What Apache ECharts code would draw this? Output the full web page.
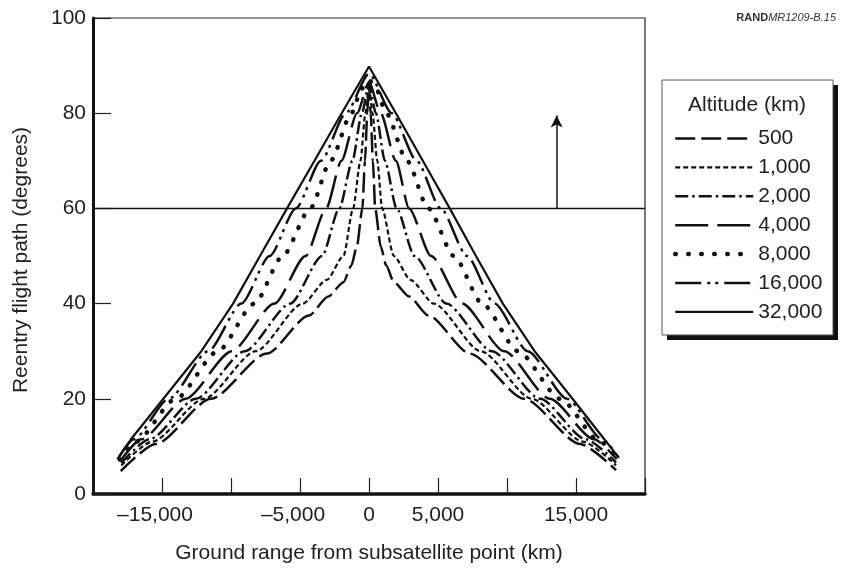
<!DOCTYPE html>
<html>
<head>
<meta charset="utf-8">
<script src="https://cdn.jsdelivr.net/npm/echarts@6/dist/echarts.min.js"></script>
<style>
html,body{margin:0;padding:0;background:#fff;}
#chart{width:842px;height:569px;}
</style>
</head>
<body>
<div id="chart"></div>
<script>
// ---- data (ground range km, reentry angle deg) ----
const altitudes = ['500', '1,000', '2,000', '4,000', '8,000', '16,000', '32,000'];
const alt500 = [[-17990,4.8],[-15450,10.5],[-11450,20],[-7400,29.5],[-4350,37.5],[-2950,41.5],[-1850,44.5],[-1280,48],[-880,52],[-480,60],[-290,70],[-125,80],[0,86],[120,80],[280,70],[450,60],[850,52],[1250,48],[1800,44.5],[2900,41.5],[4300,37.5],[7300,29.5],[11250,20],[15300,10.5],[17900,5]];
const alt1000 = [[-17950,6],[-15700,11],[-11950,20],[-8200,30],[-4800,40],[-3050,45],[-1850,50],[-1150,60],[-620,70],[-260,80],[0,86],[250,80],[600,70],[950,60],[1800,50],[3000,45],[4700,40],[8100,30],[11800,20],[15500,11],[17900,6]];
const alt2000 = [[-17950,6.5],[-15900,11.5],[-12550,20],[-9000,30],[-5700,40],[-3400,50],[-2150,60],[-1200,70],[-520,80],[0,86],[500,80],[1150,70],[2000,60],[3300,50],[5600,40],[8900,30],[12400,20],[15700,11.5],[17900,6.6]];
const alt4000 = [[-18000,7],[-16500,11.5],[-13300,20],[-9950,30],[-6850,40],[-4600,50],[-3100,60],[-2000,70],[-870,80],[0,86.5],[850,80],[1950,70],[2900,60],[4500,50],[6750,40],[9800,30],[13100,20],[16300,11.5],[17950,7.3]];
const alt8000 = [[-18050,7.2],[-16900,11],[-14000,20],[-10950,30],[-8300,40],[-6250,50],[-4250,60],[-2780,70],[-1270,80],[-520,85.2],[0,87],[500,85.2],[1250,80],[2750,70],[4300,60],[6150,50],[8200,40],[10800,30],[13850,20],[16750,11],[18000,7.4]];
const alt16000 = [[-18150,7.6],[-17050,11.5],[-14500,20],[-11650,30],[-9250,40],[-7200,50],[-5300,60],[-3480,70],[-1680,80],[0,88.3],[1650,80],[3450,70],[5200,60],[7100,50],[9100,40],[11500,30],[14350,20],[16900,11.5],[18050,7.8]];
const alt32000 = [[-18240,7.3],[-17250,11.5],[-14900,20],[-12150,30],[-9850,40],[-7900,50],[-5940,60],[-3950,70],[-1980,80],[0,89.8],[1950,80],[3900,70],[5850,60],[7750,50],[9700,40],[12000,30],[14750,20],[17050,11.5],[18120,7.6]];
const seriesData = [alt500, alt1000, alt2000, alt4000, alt8000, alt16000, alt32000];
const labeledTicksX = [-15000, -5000, 0, 5000, 15000];
const thresholdLine = [[-20000, 60], [20000, 60]];
const arrowFrom = [13600, 60];
const arrowTo = [13600, 79.5];

// ---- styles ----
const FONT = '"Liberation Sans", Arial, Helvetica, sans-serif';
const FS = 21;
const styles = [
  {type: [20, 6], width: 2.5, cap: 'butt'},
  {type: [5, 3], width: 2.2, cap: 'butt'},
  {type: [13, 4, 2.5, 4], width: 2.5, cap: 'butt'},
  {type: [33, 9], width: 2.5, cap: 'butt'},
  {type: [0.5, 12.5], width: 4.5, cap: 'round'},
  {type: [26, 6, 3, 5, 3, 6], width: 2.5, cap: 'butt'},
  {type: 'solid', width: 2.2, cap: 'butt'}
];

function fmtX(v) {
  const s = Math.abs(v).toLocaleString('en-US');
  return v < 0 ? '{neg|\u2013' + s + '}' : s;
}

const series = altitudes.map((name, i) => ({
  name: name,
  type: 'line',
  data: seriesData[i],
  symbol: 'none',
  legendIcon: 'none',
  smooth: i === 6 ? false : 0.25,
  smoothMonotone: 'x',
  lineStyle: {color: '#111', width: styles[i].width, type: styles[i].type, cap: styles[i].cap},
  itemStyle: {color: '#111'},
  z: 3
}));

series.push({
  name: 'threshold',
  type: 'line',
  data: thresholdLine,
  symbol: 'none',
  lineStyle: {color: '#111', width: 1.5},
  z: 2,
  silent: true,
  markLine: {
    silent: true,
    symbol: ['none', 'arrow'],
    symbolSize: [9, 12],
    label: {show: false},
    lineStyle: {color: '#111', width: 1.5, type: 'solid'},
    data: [[{coord: arrowFrom}, {coord: arrowTo}]]
  }
});

const legendData = altitudes.map((name, i) => ({
  name: name,
  lineStyle: {width: styles[i].width, type: styles[i].type, cap: styles[i].cap, color: '#111'}
}));

const chart = echarts.init(document.getElementById('chart'), null, {renderer: 'canvas'});
chart.setOption({
  animation: false,
  backgroundColor: '#fff',
  textStyle: {fontFamily: FONT},
  grid: {left: 93, right: 197, top: 18, bottom: 75, show: true, borderColor: '#222', borderWidth: 1.2},
  xAxis: {
    type: 'value', min: -20000, max: 20000, interval: 5000,
    name: 'Ground range from subsatellite point (km)',
    nameLocation: 'middle', nameGap: 49,
    nameTextStyle: {fontSize: FS, color: '#222', fontFamily: FONT},
    axisLine: {onZero: false, lineStyle: {color: '#111', width: 3.5}},
    axisTick: {inside: true, length: 16, lineStyle: {color: '#222', width: 1.2}},
    axisLabel: {
      margin: 11, fontSize: FS, color: '#222', fontFamily: FONT,
      formatter: v => labeledTicksX.includes(v) ? fmtX(v) : '',
      rich: {neg: {fontSize: FS, color: '#222', fontFamily: FONT, padding: [0, 14, 0, 0]}}
    },
    splitLine: {show: false}
  },
  yAxis: {
    type: 'value', min: 0, max: 100, interval: 20,
    name: 'Reentry flight path (degrees)',
    nameLocation: 'middle', nameGap: 61,
    nameTextStyle: {fontSize: FS, color: '#222', fontFamily: FONT, padding: [0, 8, 0, 0]},
    axisLine: {onZero: false, lineStyle: {color: '#111', width: 3}},
    axisTick: {inside: true, length: 18, lineStyle: {color: '#222', width: 1.2}},
    axisLabel: {margin: 7, fontSize: FS, color: '#222', fontFamily: FONT},
    splitLine: {show: false}
  },
  legend: {
    data: legendData,
    orient: 'vertical',
    left: 662, top: 80,
    itemWidth: 78, itemHeight: 20, itemGap: 7.9,
    padding: [48, 14, 15, 11],
    itemStyle: {opacity: 0, borderWidth: 0},
    textStyle: {fontSize: FS, color: '#222', fontFamily: FONT, lineHeight: 20},
    selectedMode: false,
    z: 10
  },
  graphic: [
    {type: 'rect', z: 5, shape: {x: 667, y: 85, width: 171, height: 255}, style: {fill: '#111'}},
    {type: 'rect', z: 6, shape: {x: 662, y: 80, width: 171, height: 255}, style: {fill: '#fff', stroke: '#555', lineWidth: 1}},
    {type: 'text', x: 747, y: 105, z: 100,
     style: {text: 'Altitude (km)', fill: '#222', font: FS + 'px ' + FONT, align: 'center', verticalAlign: 'middle'}},
    {type: 'text', x: 836, y: 18, z: 100,
     style: {
       text: '{b|RAND}{i|MR1209-B.15}', align: 'right', verticalAlign: 'middle',
       rich: {
         b: {fontWeight: 'bold', fontSize: 11, fill: '#333', fontFamily: FONT},
         i: {fontStyle: 'italic', fontSize: 11, fill: '#333', fontFamily: FONT}
       }
     }}
  ],
  series: series
});
</script>
</body>
</html>
